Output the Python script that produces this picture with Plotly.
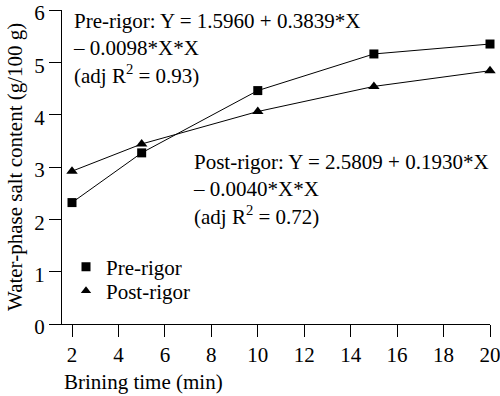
import plotly.graph_objects as go

brining_time = [2, 5, 10, 15, 20]
pre_rigor = [2.32, 3.27, 4.46, 5.16, 5.35]
post_rigor = [2.92, 3.44, 4.06, 4.54, 4.84]

x_ticks = [2, 4, 6, 8, 10, 12, 14, 16, 18, 20]
y_ticks = [0, 1, 2, 3, 4, 5, 6]

FONT = "Liberation Serif"
FS = 21

# plot area in pixels
W, H = 500, 396
L, R, T, B = 62, 10, 10, 72
PW, PH = W - L - R, H - T - B


def px(x):
    return (x - L) / PW


def py(y):
    return (H - B - y) / PH


fig = go.Figure()
fig.add_trace(go.Scatter(
    x=brining_time, y=pre_rigor, name="Pre-rigor", mode="lines+markers",
    line=dict(color="black", width=1),
    marker=dict(symbol="square", size=9, color="black"),
    cliponaxis=False, showlegend=False,
))
fig.add_trace(go.Scatter(
    x=brining_time, y=post_rigor, name="Post-rigor", mode="lines+markers",
    line=dict(color="black", width=1),
    marker=dict(symbol="triangle-up", size=10, color="black"),
    cliponaxis=False, showlegend=False,
))
# legend-only entries (markers only, as in the reference key)
fig.add_trace(go.Scatter(
    x=[None], y=[None], name="Pre-rigor", mode="markers",
    marker=dict(symbol="square", size=9, color="black"), legend="legend",
))
fig.add_trace(go.Scatter(
    x=[None], y=[None], name="Post-rigor", mode="markers",
    marker=dict(symbol="triangle-up", size=9, color="black"), legend="legend2",
))

axis_common = dict(
    showline=True, linecolor="black", linewidth=1.3,
    ticks="outside", ticklen=12, tickwidth=1.3, tickcolor="black",
    showgrid=False, zeroline=False, mirror=False, automargin=False,
    tickfont=dict(family=FONT, size=FS, color="black"),
    ticklabeloverflow="allow",
)
fig.update_xaxes(range=[2 - 10 / (418 / 18), 20], tickvals=x_ticks, **axis_common)
fig.update_yaxes(range=[0, 6], tickvals=y_ticks, ticklabelshift=3, **axis_common)

annotations = [
    dict(text="Pre-rigor: Y = 1.5960 + 0.3839*X<br>– 0.0098*X*X<br>(adj R<sup>2</sup> = 0.93)",
         x=px(71), y=py(7), xanchor="left", yanchor="top", align="left"),
    dict(text="Post-rigor: Y = 2.5809 + 0.1930*X<br>– 0.0040*X*X<br>(adj R<sup>2</sup> = 0.72)",
         x=px(191), y=py(148), xanchor="left", yanchor="top", align="left"),
    dict(text="Brining time (min)", x=px(143), y=py(382), xanchor="center", yanchor="middle"),
    dict(text="Water-phase salt content (g/100 g)", x=px(15), y=py(167),
         xanchor="center", yanchor="middle", textangle=-90),
]
for a in annotations:
    a.update(xref="paper", yref="paper", showarrow=False,
             font=dict(family=FONT, size=FS, color="black"))

legend_common = dict(xanchor="left", yanchor="middle", bgcolor="rgba(0,0,0,0)",
                     font=dict(family=FONT, size=FS, color="black"), itemsizing="trace")
fig.update_layout(
    width=W, height=H,
    margin=dict(l=L, r=R, t=T, b=B, autoexpand=False),
    paper_bgcolor="white", plot_bgcolor="white",
    font=dict(family=FONT, size=FS, color="black"),
    showlegend=True,
    legend=dict(x=px(66), y=py(267), **legend_common),
    legend2=dict(x=px(66), y=py(291), **legend_common),
    annotations=annotations,
)

fig.write_html("out.html", config={"displayModeBar": False},
               post_script="document.body.style.margin='0';")
